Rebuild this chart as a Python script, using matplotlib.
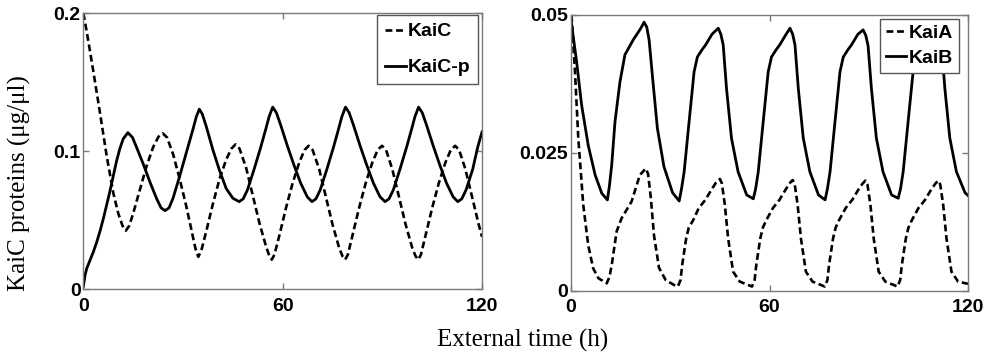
# KaiC / KaiA / KaiB oscillations, two panels
import matplotlib
matplotlib.use("Agg")
import matplotlib.pyplot as plt

#================ DATA =========================================================

# ---- left panel: KaiC (dashed) -----------------------------------------------
t_kaic = [0, 1, 3, 5, 7, 9, 10.5, 11.8, 12.8, 13.8, 15, 17, 19, 21, 22.6, 23.9,
          25.2, 27, 29, 31, 32.8, 33.8, 34.6, 35.5, 37, 39, 41, 43, 44.6, 45.8,
          47, 49, 51, 53, 55, 56, 56.7, 57.5, 59, 61, 63, 65, 66.6, 67.8,
          69, 71, 73, 75, 77, 78, 78.8, 79.6, 81, 83, 85, 87, 88.6, 89.9,
          91.1, 93, 95, 97, 99, 100, 100.8, 101.6, 103, 105, 107, 109, 110.6, 111.9,
          113.1, 115, 117, 119, 120]
kaic = [0.200, 0.187, 0.158, 0.128, 0.097, 0.070, 0.055, 0.046, 0.0425, 0.046,
        0.055, 0.072, 0.089, 0.103, 0.1105, 0.113,
        0.110, 0.098, 0.080, 0.060, 0.040, 0.029, 0.0235, 0.028, 0.042, 0.062,
        0.080, 0.094, 0.102, 0.105,
        0.102, 0.088, 0.068, 0.048, 0.031, 0.024, 0.0215, 0.025, 0.039, 0.059,
        0.077, 0.092, 0.101, 0.104,
        0.101, 0.087, 0.067, 0.047, 0.030, 0.024, 0.0215, 0.025, 0.039, 0.059,
        0.077, 0.092, 0.101, 0.104,
        0.101, 0.087, 0.067, 0.047, 0.030, 0.024, 0.0215, 0.025, 0.039, 0.059,
        0.077, 0.092, 0.101, 0.104,
        0.101, 0.087, 0.067, 0.047, 0.038]

# ---- left panel: KaiC-p (solid) ----------------------------------------------
t_kaicp = [0, 0.5, 1, 2, 3, 4, 5, 6, 7, 8, 9, 10, 11, 12, 13.4, 14.8, 16, 18,
           20, 22, 23.4, 24.6, 25.8, 27, 29, 31, 33, 34, 34.9, 35.8, 37, 39,
           41, 43, 45, 46.9, 48.1, 49.4, 51.4, 53.4, 54.9, 55.9, 57, 58.1, 59.4,
           61.4, 63.4, 65.4, 67.4, 68.8, 70, 71.3, 73.3, 75.3, 76.8, 77.8, 78.9,
           80, 81.3, 83.3, 85.3, 87.3, 89.3, 90.8, 92, 93.3, 95.3, 97.3, 98.8,
           99.8, 100.9, 102, 103.3, 105.3, 107.3, 109.3, 111.3, 112.7, 113.9,
           115.2, 117.2, 118.7, 120]
kaicp = [0.002, 0.010, 0.015, 0.021, 0.027, 0.034, 0.042, 0.051, 0.061, 0.071,
         0.082, 0.093, 0.102, 0.109, 0.1135, 0.110, 0.103, 0.091,
         0.078, 0.066, 0.059, 0.057, 0.059, 0.066, 0.082, 0.099, 0.116, 0.125,
         0.1305, 0.127, 0.118, 0.101,
         0.086, 0.073, 0.066, 0.0635, 0.0655, 0.072, 0.087, 0.103, 0.116, 0.125,
         0.132, 0.128, 0.119,
         0.104, 0.090, 0.077, 0.067, 0.0635, 0.0655, 0.072, 0.087, 0.103, 0.116,
         0.125, 0.132,
         0.128, 0.119, 0.104, 0.090, 0.077, 0.067, 0.0635, 0.0655, 0.072, 0.087,
         0.103, 0.116,
         0.125, 0.132, 0.128, 0.119, 0.104, 0.090, 0.077, 0.067, 0.0635, 0.0655,
         0.072, 0.087, 0.103, 0.114]

# ---- right panel: KaiA (dashed) ----------------------------------------------
t_kaia = [0, 0.2, 1.2, 2.2, 3.7, 5.2, 6.7, 8.3, 10.8, 11.6, 12.3, 13.8, 15.3,
          18.3, 20.8, 22.6, 23.3, 24.1, 25.1, 26.6, 28.6, 31.1, 32.3, 33.1, 33.6,
          34.8, 35.6, 36.9, 38.6, 40.6, 42.6, 43.8, 45, 45.6, 46.5, 47.5, 49,
          51, 53.5, 54.7, 55.5, 56, 57.2, 58, 59, 61, 63, 65, 66.2, 67, 67.6,
          68.5, 69.5, 71, 73, 75.5, 76.7, 77.5, 78, 79.2, 80, 81, 83, 85, 87,
          88.2, 89, 89.6, 90.5, 91.5, 93, 95, 97.5, 98.7, 99.5, 100, 101.2, 102,
          103, 105, 107, 109, 110.2, 111, 111.6, 112.5, 113.5, 115, 117, 120]
kaia = [0.050, 0.0494, 0.0397, 0.0277, 0.0156, 0.0083, 0.0041, 0.0023, 0.0014,
        0.0025, 0.0047, 0.0108, 0.0132,
        0.0162, 0.0210, 0.0222, 0.0212, 0.0170, 0.0100, 0.0042, 0.0020, 0.0011,
        0.0008, 0.0020, 0.0047,
        0.0095, 0.0115, 0.0128, 0.0150, 0.0165, 0.0185, 0.0196, 0.0203, 0.0195,
        0.0156, 0.0095, 0.0035,
        0.0017, 0.0011, 0.0008, 0.0020, 0.0047, 0.0095, 0.0115, 0.0128, 0.0150,
        0.0165, 0.0185, 0.0196, 0.0201, 0.0194,
        0.0156, 0.0095, 0.0035, 0.0017, 0.0011, 0.0008, 0.0020, 0.0047, 0.0095,
        0.0115, 0.0128, 0.0150, 0.0165, 0.0185,
        0.0195, 0.0200, 0.0193, 0.0156, 0.0095, 0.0035, 0.0017, 0.0011, 0.0008,
        0.0020, 0.0047, 0.0095, 0.0115,
        0.0128, 0.0150, 0.0165, 0.0185, 0.0195, 0.0200, 0.0193, 0.0156, 0.0095,
        0.0035, 0.0017, 0.0013]

# ---- right panel: KaiB (solid) -----------------------------------------------
t_kaib = [0, 0.2, 1.7, 3.2, 5.2, 7.3, 9.3, 11, 11.6, 12.3, 13.3, 14.8, 16.3,
          18.8, 21, 22.1, 22.9, 23.6, 24.6, 26.1, 28.1, 30.7, 32.7, 33.4, 34.2,
          35.7, 37.2, 38.2, 39.6, 40.7, 42.6, 44.5, 45.3, 46, 47, 48.5, 50.5,
          53.1, 55.1, 55.8, 56.6, 58.1, 59.6, 60.6, 62, 63.1, 65, 66.2, 67,
          67.7, 68.7, 70.2, 72.2, 74.8, 76.8, 77.5, 78.3, 79.8, 81.3, 82.3,
          83.7, 84.8, 86.7, 88.3, 89.1, 89.8, 90.8, 92.3, 94.3, 96.9, 98.9,
          99.6, 100.4, 101.9, 103.4, 104.4, 105.8, 106.9, 108.8, 110.5, 111.3,
          112, 113, 114.5, 116.5, 119.1, 120]
kaib = [0.050, 0.0482, 0.0415, 0.0337, 0.0264, 0.0210, 0.0177, 0.0165, 0.0190,
        0.0228, 0.0307, 0.0379, 0.0428,
        0.0455, 0.0475, 0.0487, 0.0478, 0.0455, 0.0390, 0.0295, 0.0225, 0.0178,
        0.0163, 0.0185, 0.0216,
        0.0307, 0.0397, 0.0424, 0.0437, 0.0446, 0.0465, 0.0476, 0.0465, 0.0446,
        0.0367, 0.0277, 0.0216,
        0.0174, 0.0167, 0.0185, 0.0216, 0.0307, 0.0397, 0.0424, 0.0437, 0.0446,
        0.0465, 0.0476, 0.0465,
        0.0446, 0.0367, 0.0277, 0.0216, 0.0174, 0.0165, 0.0185, 0.0216, 0.0307,
        0.0397, 0.0424,
        0.0437, 0.0446, 0.0465, 0.0473, 0.0463, 0.0444, 0.0367, 0.0277, 0.0216,
        0.0174, 0.0168,
        0.0185, 0.0216, 0.0307, 0.0397, 0.0424, 0.0437, 0.0446, 0.0465, 0.0473,
        0.0463, 0.0444, 0.0367, 0.0277, 0.0216, 0.0178, 0.0173]

#================ PLOTTING =====================================================

tick_font = {'family': 'Liberation Sans', 'weight': 'bold', 'size': 14}
legend_font = {'family': 'Liberation Sans', 'weight': 'bold', 'size': 14}
label_font = {'family': 'Liberation Serif', 'size': 18}
spine_col = '#7a7a7a'
dash = (0, (2.6, 1.4))

fig = plt.figure(figsize=(9.91, 3.55), dpi=100)
ax1 = fig.add_axes([0.0841, 0.1851, 0.4023, 0.7775])
ax2 = fig.add_axes([0.5762, 0.1803, 0.4006, 0.7775])

ax1.plot(t_kaic, kaic, color='black', lw=1.9, ls=dash, label='KaiC')
ax1.plot(t_kaicp, kaicp, color='black', lw=2.0, label='KaiC-p')
ax2.plot(t_kaia, kaia, color='black', lw=1.9, ls=dash, label='KaiA')
ax2.plot(t_kaib, kaib, color='black', lw=2.0, label='KaiB')

ax1.set_ylim(0, 0.2)
ax1.set_yticks([0, 0.1, 0.2])
ax1.set_yticklabels(['0', '0.1', '0.2'])
ax2.set_ylim(0, 0.05)
ax2.set_yticks([0, 0.025, 0.05])
ax2.set_yticklabels(['0', '0.025', '0.05'])

for ax in (ax1, ax2):
    ax.set_xlim(0, 120)
    ax.set_xticks([0, 60, 120])
    ax.set_xticklabels(['0', '60', '120'])
    for s in ax.spines.values():
        s.set_color(spine_col)
        s.set_linewidth(1.0)
    ax.tick_params(direction='in', length=4, width=1.0, color=spine_col,
                   top=True, right=True)
    ax.tick_params(axis='x', pad=6)
    ax.tick_params(axis='y', pad=2)
    for lab in ax.get_xticklabels() + ax.get_yticklabels():
        lab.set_fontproperties(tick_font)

leg1 = ax1.legend(loc='upper right', bbox_to_anchor=(0.990, 0.994), prop=legend_font,
                  handlelength=1.05, handletextpad=0.1, labelspacing=0.95,
                  borderaxespad=0, borderpad=0.4, fancybox=False,
                  edgecolor='#555555', framealpha=1)
leg1.get_frame().set_linewidth(1.0)
leg2 = ax2.legend(loc='upper right', bbox_to_anchor=(0.977, 0.986), prop=legend_font,
                  handlelength=1.0, handletextpad=0.15, labelspacing=0.35,
                  borderaxespad=0, borderpad=0.3, fancybox=False,
                  edgecolor='#555555', framealpha=1)
leg2.get_frame().set_linewidth(1.0)

fig.text(0.020, 0.485, 'KaiC proteins (\u03bcg/\u03bcl)', rotation=90,
         ha='center', va='center', fontdict=label_font)
fig.text(0.527, 0.042, 'External time (h)', ha='center', va='center',
         fontdict=label_font)

fig.savefig('out.png', dpi=100)
